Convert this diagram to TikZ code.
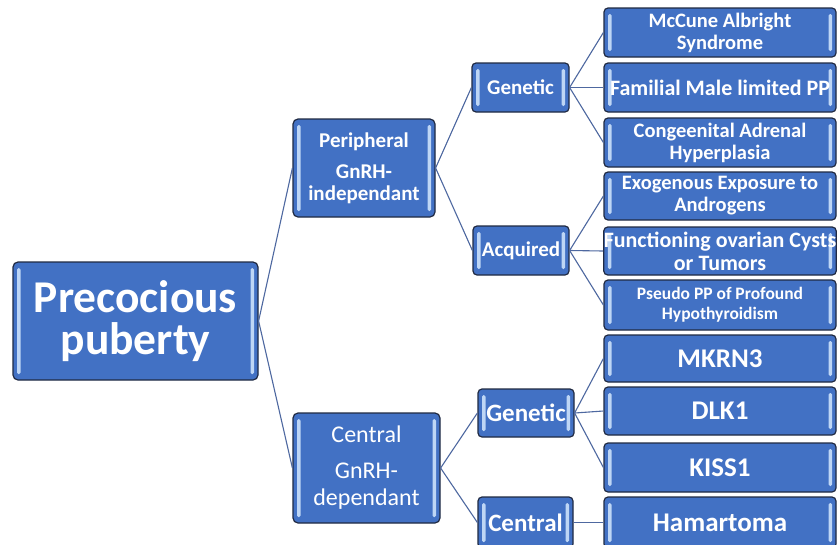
\documentclass[tikz,border=0pt]{standalone}
\usepackage{fontspec}
\setmainfont{Carlito}
\definecolor{boxblue}{RGB}{66,113,196}
\definecolor{boxedge}{RGB}{32,42,66}
\definecolor{barcol}{RGB}{190,214,245}
\definecolor{conncol}{RGB}{78,104,160}
\tikzset{
  box/.style={draw=boxedge, line width=1.2pt, fill=boxblue, rounded corners=5pt,
    text=white, align=center, inner sep=0pt,
    path picture={
      \fill[barcol, rounded corners=1.5pt]
        ([xshift=4pt,yshift=6pt]path picture bounding box.south west) rectangle
        ([xshift=7.5pt,yshift=-6pt]path picture bounding box.north west);
      \fill[barcol, rounded corners=1.5pt]
        ([xshift=-4pt,yshift=6pt]path picture bounding box.south east) rectangle
        ([xshift=-7.5pt,yshift=-6pt]path picture bounding box.north east);
    }},
  conn/.style={draw=conncol, line width=1.1pt},
  bf/.style={font=\bfseries\fontsize{#1}{#1}\selectfont},
}
\begin{document}
\begin{tikzpicture}[x=1pt,y=-1pt]
\useasboundingbox (0,0) rectangle (837,544);
\clip (0,0) rectangle (837,544);
\fill[white] (0,0) rectangle (837,544);

% level 0
\node[box, minimum width=245pt, minimum height=118pt,
      font=\bfseries\fontsize{45.5}{42}\selectfont] (main) at (135.5,321) {Precocious\\puberty};

% level 1
\node[box, minimum width=142pt, minimum height=98pt,
      font=\bfseries\fontsize{21}{22}\selectfont] (periph) at (364,168) {Peripheral\\[9pt]GnRH-\\independant};
\node[box, minimum width=147pt, minimum height=110pt,
      font=\fontsize{24}{27}\selectfont] (central) at (366.5,468) {Central\\[9pt]GnRH-\\dependant};

% level 2
\node[box, rounded corners=4pt, minimum width=97pt, minimum height=49pt, bf=21] (gen1) at (520.5,87.5) {Genetic};
\node[box, rounded corners=4pt, minimum width=96pt, minimum height=49pt, bf=21] (acq) at (521,250.5) {Acquired};
\node[box, rounded corners=4pt, minimum width=96pt, minimum height=48pt, bf=25] (gen2) at (526,413) {Genetic};
\node[box, rounded corners=4pt, minimum width=95pt, minimum height=51pt, bf=25] (cen2) at (525.5,522.5) {Central};

% level 3
\node[box, rounded corners=4pt, minimum width=232pt, minimum height=49pt,
      font=\bfseries\fontsize{20.5}{22}\selectfont] (mccune) at (720,32.5) {McCune Albright\\Syndrome};
\node[box, rounded corners=4pt, minimum width=232pt, minimum height=49pt, bf=22] (familial) at (720,87.5) {Familial Male limited PP};
\node[box, rounded corners=4pt, minimum width=232pt, minimum height=49pt,
      font=\bfseries\fontsize{20.5}{22}\selectfont] (cah) at (720,142.5) {Congeenital Adrenal\\Hyperplasia};
\node[box, rounded corners=4pt, minimum width=232pt, minimum height=48pt,
      font=\bfseries\fontsize{20.5}{22}\selectfont] (exo) at (720,196) {Exogenous Exposure to\\Androgens};
\node[box, rounded corners=4pt, minimum width=232pt, minimum height=48pt,
      font=\bfseries\fontsize{22}{23}\selectfont] (func) at (720,251) {Functioning ovarian Cysts\\or Tumors};
\node[box, rounded corners=4pt, minimum width=232pt, minimum height=50pt,
      font=\bfseries\fontsize{17.5}{20}\selectfont] (pseudo) at (720,305) {Pseudo PP of Profound\\Hypothyroidism};
\node[box, rounded corners=4pt, minimum width=232pt, minimum height=47pt, bf=27] (mkrn) at (720,358.5) {MKRN3};
\node[box, rounded corners=4pt, minimum width=232pt, minimum height=48pt, bf=27] (dlk) at (720,411) {DLK1};
\node[box, rounded corners=4pt, minimum width=232pt, minimum height=49pt, bf=27] (kiss) at (720,467.5) {KISS1};
\node[box, rounded corners=4pt, minimum width=232pt, minimum height=51pt, bf=27] (hamart) at (720,522.5) {Hamartoma};

% connectors
\draw[conn] (main.east) -- (periph.west);
\draw[conn] (main.east) -- (central.west);
\draw[conn] (periph.east) -- (gen1.west);
\draw[conn] (periph.east) -- (acq.west);
\draw[conn] (central.east) -- (gen2.west);
\draw[conn] (central.east) -- (cen2.west);
\draw[conn] (gen1.east) -- (mccune.west);
\draw[conn] (gen1.east) -- (familial.west);
\draw[conn] (gen1.east) -- (cah.west);
\draw[conn] (acq.east) -- (exo.west);
\draw[conn] (acq.east) -- (func.west);
\draw[conn] (acq.east) -- (pseudo.west);
\draw[conn] (gen2.east) -- (mkrn.west);
\draw[conn] (gen2.east) -- (dlk.west);
\draw[conn] (gen2.east) -- (kiss.west);
\draw[conn] (cen2.east) -- (hamart.west);
\end{tikzpicture}
\end{document}
